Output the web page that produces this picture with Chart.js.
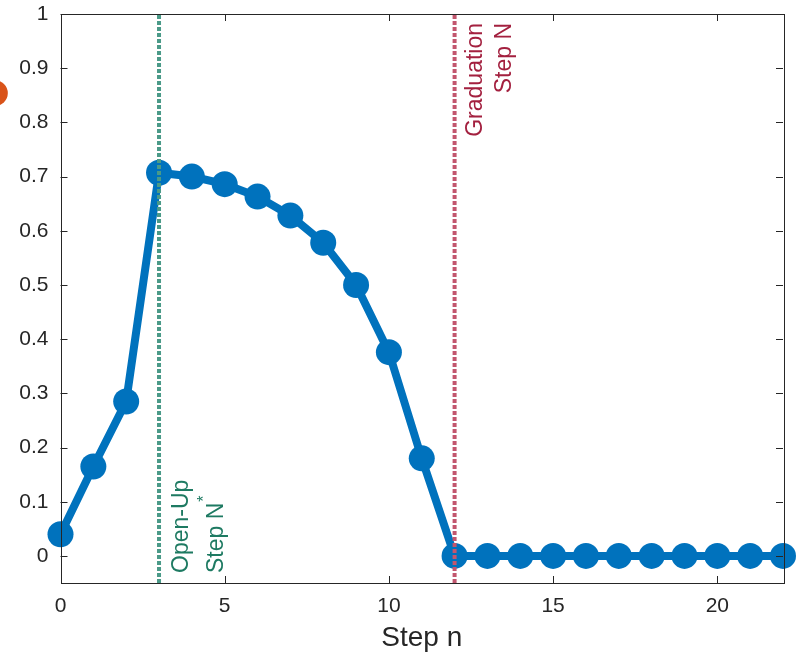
<!DOCTYPE html>
<html>
<head>
<meta charset="utf-8">
<script src="https://cdn.jsdelivr.net/npm/chart.js@4/dist/chart.umd.min.js"></script>
<style>
html,body{margin:0;padding:0;background:#fff;}
#wrap{position:relative;width:796px;height:655px;}
</style>
</head>
<body>
<div id="wrap"><canvas id="c" width="796" height="655"></canvas></div>
<script>
const steps = [0,1,2,3,4,5,6,7,8,9,10,11,12,13,14,15,16,17,18,19,20,21,22];
const values = [0.04,0.165,0.285,0.707,0.70,0.686,0.663,0.628,0.578,0.50,0.376,0.18,0,0,0,0,0,0,0,0,0,0,0];
const xTicks = [0,5,10,15,20];
const yTicks = [0,0.1,0.2,0.3,0.4,0.5,0.6,0.7,0.8,0.9,1];
const openUpStep = 3;
const graduationStep = 12;
const extraPoint = [{x:-2, y:0.854}];
const xLabel = 'Step n';

const FONT = 'Liberation Sans, Arial, Helvetica, sans-serif';
const AX = '#262626';

const annot = {
  id:'annot',
  afterDatasetsDraw(chart){
    const ctx = chart.ctx, xs = chart.scales.x, ys = chart.scales.y, a = chart.chartArea;
    ctx.save();
    ctx.fillStyle = '#D95319';
    extraPoint.forEach(p=>{
      ctx.beginPath();
      ctx.arc(xs.getPixelForValue(p.x), ys.getPixelForValue(p.y), 13, 0, Math.PI*2);
      ctx.fill();
    });
    ctx.strokeStyle = AX; ctx.lineWidth = 1;
    ctx.strokeRect(Math.round(a.left)+0.5, Math.round(a.top)+0.5, Math.round(a.right-a.left), Math.round(a.bottom-a.top));
    ctx.beginPath();
    xTicks.forEach(v=>{
      const px = Math.round(xs.getPixelForValue(v))+0.5;
      ctx.moveTo(px, a.bottom); ctx.lineTo(px, a.bottom-7);
      ctx.moveTo(px, a.top); ctx.lineTo(px, a.top+7);
    });
    yTicks.forEach(v=>{
      const py = Math.round(ys.getPixelForValue(v))+0.5;
      ctx.moveTo(a.left, py); ctx.lineTo(a.left+7, py);
      ctx.moveTo(a.right, py); ctx.lineTo(a.right-7, py);
    });
    ctx.stroke();
    ctx.font = '23px ' + FONT;
    ctx.textBaseline = 'middle';
    const gx = xs.getPixelForValue(openUpStep);
    ctx.fillStyle = '#1e7a62';
    ctx.save(); ctx.translate(gx+23, a.bottom-10); ctx.rotate(-Math.PI/2);
    ctx.textAlign='left'; ctx.fillText('Open-Up', 0, 0); ctx.restore();
    ctx.save(); ctx.translate(gx+58, a.bottom-10); ctx.rotate(-Math.PI/2);
    ctx.textAlign='left'; ctx.fillText('Step N', 0, 0);
    const w = ctx.measureText('Step N').width;
    ctx.font = '16px ' + FONT; ctx.fillText('*', w+1, -12);
    ctx.restore();
    const rx = xs.getPixelForValue(graduationStep);
    ctx.font = '23px ' + FONT;
    ctx.fillStyle = '#a3203f';
    ctx.save(); ctx.translate(rx+21, a.top+9); ctx.rotate(-Math.PI/2);
    ctx.textAlign='right'; ctx.fillText('Graduation', 0, 0); ctx.restore();
    ctx.save(); ctx.translate(rx+50, a.top+9); ctx.rotate(-Math.PI/2);
    ctx.textAlign='right'; ctx.fillText('Step N', 0, 0); ctx.restore();
    ctx.restore();
  }
};

new Chart(document.getElementById('c'), {
  type:'scatter',
  data:{
    datasets:[
      {
        data: steps.map((s,i)=>({x:s,y:values[i]})),
        showLine:true, borderColor:'#0072BD', backgroundColor:'#0072BD',
        borderWidth:8, pointRadius:13, pointHoverRadius:13, pointBorderWidth:0,
        clip:false, order:3
      },
      {
        data:[{x:openUpStep,y:-0.05},{x:openUpStep,y:1}],
        showLine:true, borderColor:'#4a9a88', borderWidth:4, borderDash:[4,2],
        pointRadius:0, clip:false, order:1
      },
      {
        data:[{x:graduationStep,y:-0.05},{x:graduationStep,y:1}],
        showLine:true, borderColor:'#c2566e', borderWidth:4, borderDash:[4,2],
        pointRadius:0, clip:false, order:1
      }
    ]
  },
  options:{
    responsive:false, animation:false, devicePixelRatio:1,
    layout:{padding:{left:0,right:11,top:14,bottom:0}},
    plugins:{legend:{display:false}, tooltip:{enabled:false}},
    scales:{
      x:{
        type:'linear', min:0, max:22,
        afterBuildTicks(s){ s.ticks = xTicks.map(v=>({value:v})); },
        afterFit(s){ s.height = 72; s.paddingLeft = 0; s.paddingRight = 0; },
        grid:{display:false, drawTicks:false},
        border:{display:false},
        ticks:{color:AX, font:{family:FONT,size:21}, padding:11, maxRotation:0},
        title:{display:true, text:xLabel, color:AX, font:{family:FONT,size:28}, padding:{top:0,bottom:0}}
      },
      y:{
        type:'linear', min:-0.05, max:1,
        afterBuildTicks(s){ s.ticks = yTicks.map(v=>({value:v})); },
        afterFit(s){ s.width = 60.5; s.paddingTop = 0; s.paddingBottom = 0; },
        grid:{display:false, drawTicks:false},
        border:{display:false},
        ticks:{color:AX, font:{family:FONT,size:21}, padding:12, callback:v=>String(Math.round(v*10)/10)}
      }
    }
  },
  plugins:[annot]
});
</script>
</body>
</html>
